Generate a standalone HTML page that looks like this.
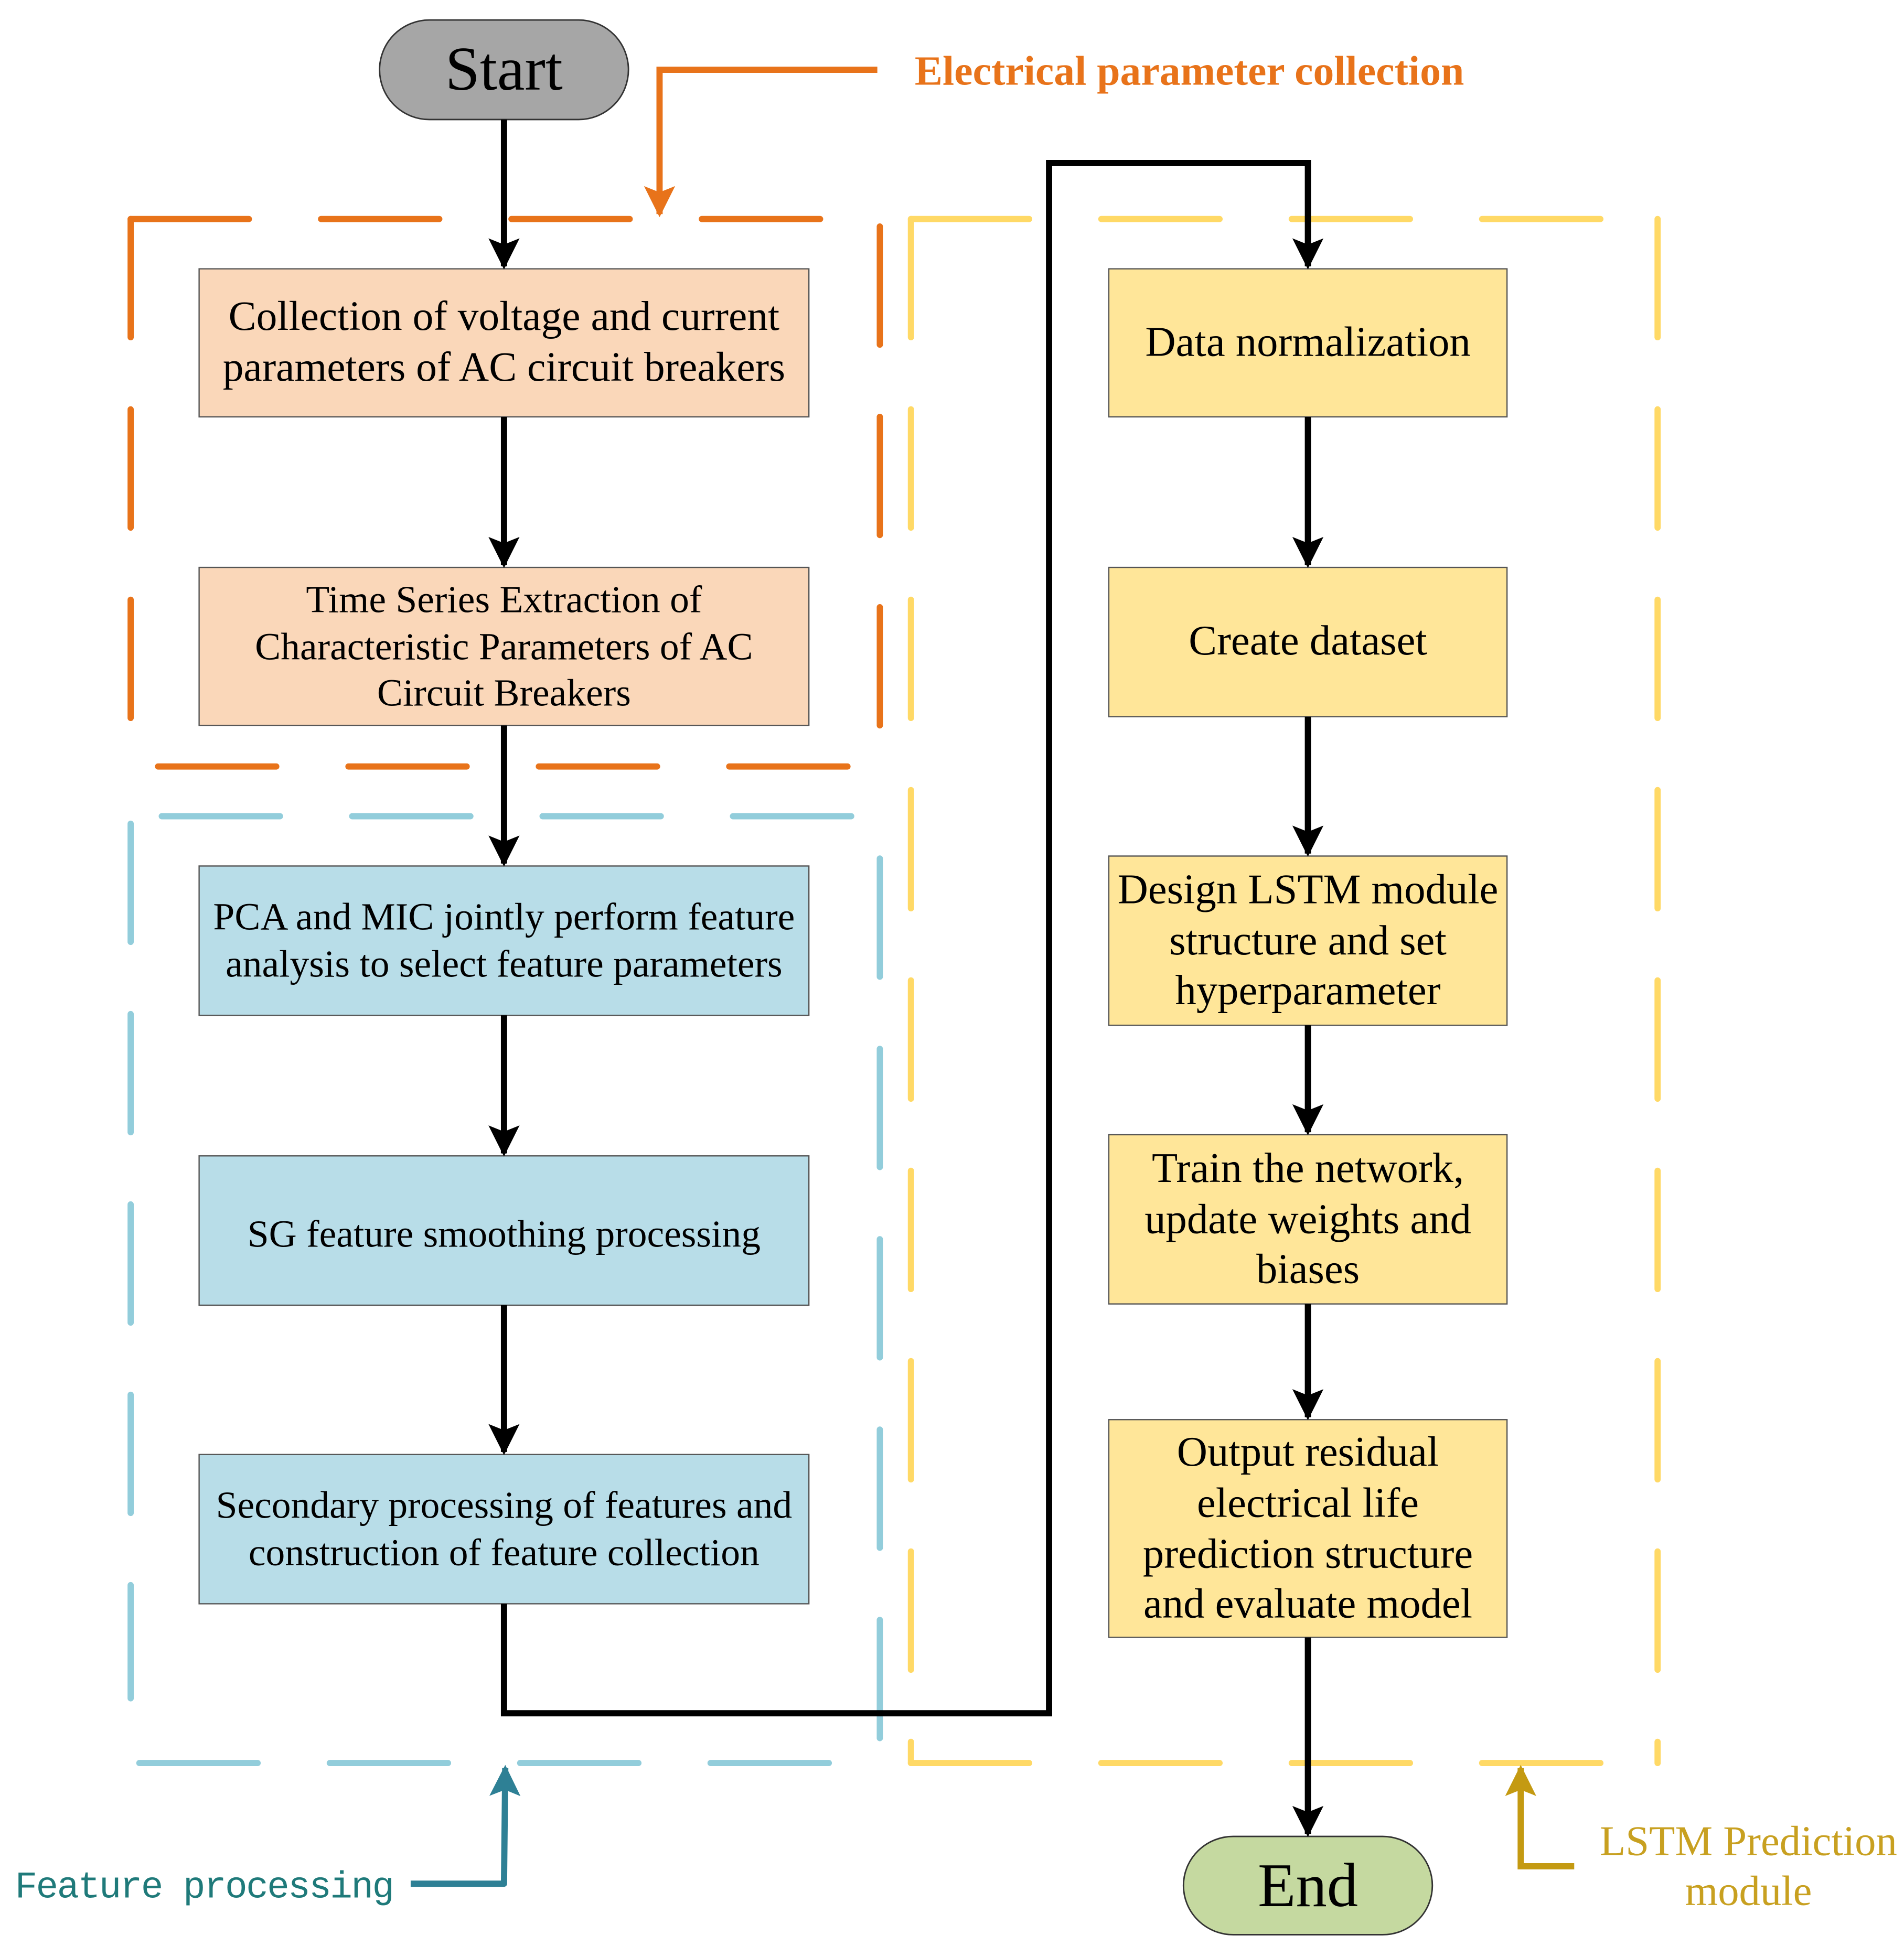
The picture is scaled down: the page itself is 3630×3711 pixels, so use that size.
<!DOCTYPE html>
<html><head><meta charset="utf-8"><style>
html,body{margin:0;padding:0;background:#fff}
svg{display:block}
</style></head><body>
<svg width="3630" height="3711" viewBox="0 0 1530 1564" xmlns="http://www.w3.org/2000/svg" font-family="Liberation Serif, serif">
<defs>
<marker id="ab" viewBox="0 0 10 10" refX="9" refY="5" markerWidth="5" markerHeight="5" orient="auto" markerUnits="strokeWidth"><path d="M0,0 L10,5 L0,10 L2,5 z" fill="#000"/></marker>
<marker id="ao" viewBox="0 0 10 10" refX="9" refY="5" markerWidth="5" markerHeight="5" orient="auto" markerUnits="strokeWidth"><path d="M0,0 L10,5 L0,10 L2,5 z" fill="#e8731a"/></marker>
<marker id="at" viewBox="0 0 10 10" refX="9" refY="5" markerWidth="5" markerHeight="5" orient="auto" markerUnits="strokeWidth"><path d="M0,0 L10,5 L0,10 L2,5 z" fill="#2e8095"/></marker>
<marker id="ay" viewBox="0 0 10 10" refX="9" refY="5" markerWidth="5" markerHeight="5" orient="auto" markerUnits="strokeWidth"><path d="M0,0 L10,5 L0,10 L2,5 z" fill="#c49a12"/></marker>
</defs>
<rect width="1530" height="1564" fill="#fff"/>

<g fill="none" stroke-width="5" stroke-linecap="round" stroke-dasharray="95 58">
<g stroke="#e8731a">
<line x1="105" y1="176" x2="707" y2="176"/>
<line x1="105" y1="176" x2="105" y2="585"/>
<line x1="707" y1="182" x2="707" y2="585"/>
<line x1="127" y1="616" x2="685" y2="616"/>
</g>
<g stroke="#92cddb">
<line x1="130" y1="656" x2="688" y2="656"/>
<line x1="105" y1="662" x2="105" y2="1365"/>
<line x1="707" y1="690" x2="707" y2="1400"/>
<line x1="112" y1="1417" x2="668" y2="1417"/>
</g>
<g stroke="#ffd966">
<line x1="732" y1="176" x2="1332" y2="176"/>
<line x1="732" y1="176" x2="732" y2="1417"/>
<line x1="1332" y1="176" x2="1332" y2="1417"/>
<line x1="732" y1="1417" x2="1332" y2="1417"/>
</g>
</g>

<rect x="305" y="16" width="200" height="80" rx="40" fill="#a6a6a6" stroke="#333" stroke-width="1.2"/>
<text x="405" y="72" font-size="50" text-anchor="middle">Start</text>
<rect x="951" y="1476" width="200" height="79" rx="40" fill="#c5d9a0" stroke="#333" stroke-width="1.2"/>
<text x="1051" y="1532" font-size="50" text-anchor="middle">End</text>

<g stroke="#555" stroke-width="1">
<rect x="160" y="216" width="490" height="119" fill="#fad7b9"/>
<rect x="160" y="456" width="490" height="127" fill="#fad7b9"/>
<rect x="160" y="696" width="490" height="120" fill="#b8dde8"/>
<rect x="160" y="929" width="490" height="120" fill="#b8dde8"/>
<rect x="160" y="1169" width="490" height="120" fill="#b8dde8"/>
<rect x="891" y="216" width="320" height="119" fill="#ffe699"/>
<rect x="891" y="456" width="320" height="120" fill="#ffe699"/>
<rect x="891" y="688" width="320" height="136" fill="#ffe699"/>
<rect x="891" y="912" width="320" height="136" fill="#ffe699"/>
<rect x="891" y="1141" width="320" height="175" fill="#ffe699"/>
</g>
<g text-anchor="middle" fill="#000">
<text x="405" y="265" font-size="33.5">Collection of voltage and current</text>
<text x="405" y="306" font-size="33.5">parameters of AC circuit breakers</text>
<text x="405" y="492" font-size="31">Time Series Extraction of</text>
<text x="405" y="530" font-size="31">Characteristic Parameters of AC</text>
<text x="405" y="567" font-size="31">Circuit Breakers</text>
<text x="405" y="747" font-size="31">PCA and MIC jointly perform feature</text>
<text x="405" y="785" font-size="31">analysis to select feature parameters</text>
<text x="405" y="1002" font-size="31">SG feature smoothing processing</text>
<text x="405" y="1220" font-size="31">Secondary processing of features and</text>
<text x="405" y="1258" font-size="31">construction of feature collection</text>
<text x="1051" y="286" font-size="34">Data normalization</text>
<text x="1051" y="526" font-size="34">Create dataset</text>
<text x="1051" y="726" font-size="34">Design LSTM module</text>
<text x="1051" y="767" font-size="34">structure and set</text>
<text x="1051" y="807" font-size="34">hyperparameter</text>
<text x="1051" y="950" font-size="34">Train the network,</text>
<text x="1051" y="991" font-size="34">update weights and</text>
<text x="1051" y="1031" font-size="34">biases</text>
<text x="1051" y="1178" font-size="34">Output residual</text>
<text x="1051" y="1219" font-size="34">electrical life</text>
<text x="1051" y="1260" font-size="34">prediction structure</text>
<text x="1051" y="1300" font-size="34">and evaluate model</text>
</g>

<g stroke="#000" stroke-width="5" fill="none" marker-end="url(#ab)">
<line x1="405" y1="96" x2="405" y2="214"/>
<line x1="405" y1="335" x2="405" y2="454"/>
<line x1="405" y1="583" x2="405" y2="694"/>
<line x1="405" y1="816" x2="405" y2="927"/>
<line x1="405" y1="1049" x2="405" y2="1167"/>
<polyline points="405,1289 405,1377 843,1377 843,131 1051,131 1051,214"/>
<line x1="1051" y1="335" x2="1051" y2="454"/>
<line x1="1051" y1="576" x2="1051" y2="686"/>
<line x1="1051" y1="824" x2="1051" y2="910"/>
<line x1="1051" y1="1048" x2="1051" y2="1139"/>
<line x1="1051" y1="1316" x2="1051" y2="1474"/>
</g>

<polyline points="705,56 530,56 530,172" fill="none" stroke="#e8731a" stroke-width="5" marker-end="url(#ao)"/>
<text x="735" y="68" font-size="33.6" font-weight="bold" fill="#e8731a">Electrical parameter collection</text>

<polyline points="330,1514 405,1514 406,1421" fill="none" stroke="#2e8095" stroke-width="5" stroke-linejoin="round" marker-end="url(#at)"/>
<text x="12" y="1525" font-size="30" fill="#1f7a7a" font-family="Liberation Mono, monospace" textLength="305">Feature processing</text>

<polyline points="1265,1500 1222,1500 1222,1421" fill="none" stroke="#c49a12" stroke-width="5" marker-end="url(#ay)"/>
<text x="1405" y="1491" font-size="34" fill="#c8a020" text-anchor="middle">LSTM Prediction</text>
<text x="1405" y="1531" font-size="34" fill="#c8a020" text-anchor="middle">module</text>
</svg>
</body></html>
